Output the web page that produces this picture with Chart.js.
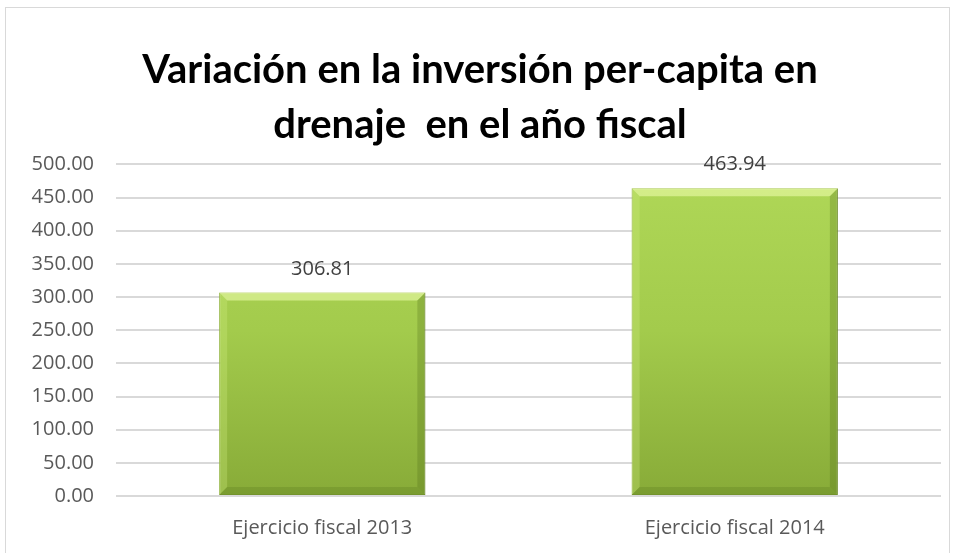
<!DOCTYPE html>
<html>
<head>
<meta charset="utf-8">
<script src="https://cdn.jsdelivr.net/npm/chart.js@4"></script>
<style>
  html, body { margin: 0; padding: 0; background: #fff; }
  #box { position: absolute; left: 5px; top: 7px; width: 945px; height: 560px; border: 1px solid #d9d9d9; box-sizing: border-box; }
  #wrap { position: absolute; left: 0; top: 0; width: 956px; height: 553px; }
</style>
</head>
<body>
<div id="box"></div>
<div id="wrap"><canvas id="c" width="956" height="553"></canvas></div>
<script>
var categories = ['Ejercicio fiscal 2013', 'Ejercicio fiscal 2014'];
var values = [306.81, 463.94];
var titleLines = ['Variación en la inversión per-capita en', 'drenaje  en el año fiscal'];

// green gradient for bars, like the bevel fill in the original
function barFill(ctx) {
  var chart = ctx.chart;
  var area = chart.chartArea;
  if (!area) return '#a6cf4f';
  var g = chart.ctx.createLinearGradient(0, area.top, 0, area.bottom);
  g.addColorStop(0, '#b0d858');
  g.addColorStop(0.5, '#a3cb4c');
  g.addColorStop(1, '#88ab38');
  return g;
}

var valueLabels = {
  id: 'valueLabels',
  afterDatasetsDraw: function(chart) {
    var ctx = chart.ctx;
    var meta = chart.getDatasetMeta(0);
    ctx.save();
    ctx.font = '20px "Open Sans", sans-serif';
    ctx.fillStyle = '#404040';
    ctx.textAlign = 'center';
    ctx.textBaseline = 'alphabetic';
    meta.data.forEach(function(bar, i) {
      ctx.fillText(values[i].toFixed(2), bar.x, bar.y - 18);
    });
    ctx.restore();
  }
};

// soft bevel edges on each bar
var bevel = {
  id: 'bevel',
  afterDatasetsDraw: function(chart) {
    var ctx = chart.ctx;
    var meta = chart.getDatasetMeta(0);
    var b = 8;
    ctx.save();
    meta.data.forEach(function(bar) {
      var l = bar.x - bar.width / 2, r = bar.x + bar.width / 2, t = bar.y, bt = bar.base;
      ctx.fillStyle = 'rgba(235,252,170,0.6)';
      ctx.beginPath();
      ctx.moveTo(l, t); ctx.lineTo(r, t); ctx.lineTo(r - b, t + b); ctx.lineTo(l + b, t + b); ctx.closePath(); ctx.fill();
      ctx.fillStyle = 'rgba(210,240,130,0.3)';
      ctx.beginPath();
      ctx.moveTo(l, t); ctx.lineTo(l + b, t + b); ctx.lineTo(l + b, bt - b); ctx.lineTo(l, bt); ctx.closePath(); ctx.fill();
      ctx.fillStyle = 'rgba(70,100,20,0.25)';
      ctx.beginPath();
      ctx.moveTo(r, t); ctx.lineTo(r - b, t + b); ctx.lineTo(r - b, bt - b); ctx.lineTo(r, bt); ctx.closePath(); ctx.fill();
      ctx.fillStyle = 'rgba(70,100,20,0.2)';
      ctx.beginPath();
      ctx.moveTo(l, bt); ctx.lineTo(l + b, bt - b); ctx.lineTo(r - b, bt - b); ctx.lineTo(r, bt); ctx.closePath(); ctx.fill();
    });
    ctx.restore();
  }
};

new Chart(document.getElementById('c'), {
  type: 'bar',
  data: {
    labels: categories,
    datasets: [{
      data: values,
      backgroundColor: barFill,
      borderColor: '#7f9f33',
      borderWidth: 1,
      borderSkipped: false,
      categoryPercentage: 0.5,
      barPercentage: 1
    }]
  },
  options: {
    responsive: false,
    animation: false,
    layout: { padding: { left: 19, right: 15, top: 42, bottom: -7 } },
    plugins: {
      legend: { display: false },
      tooltip: { enabled: false },
      title: {
        display: true,
        text: titleLines,
        color: '#000',
        font: { family: 'Lato, sans-serif', size: 40, weight: 'bold', lineHeight: 1.38 },
        padding: { top: 0, bottom: 12 }
      }
    },
    scales: {
      y: {
        min: 0,
        max: 500,
        afterFit: function(scale) { scale.width = 97; },
        ticks: {
          stepSize: 50,
          color: '#595959',
          font: { family: '"Open Sans", sans-serif', size: 20 },
          padding: 22,
          callback: function(v) { return v.toFixed(2); }
        },
        grid: { color: '#d9d9d9', lineWidth: 2, drawTicks: false },
        border: { display: false }
      },
      x: {
        ticks: {
          color: '#595959',
          font: { family: '"Open Sans", sans-serif', size: 20 },
          padding: 20
        },
        grid: { display: false, drawTicks: false },
        border: { display: false }
      }
    }
  },
  plugins: [bevel, valueLabels]
});
</script>
</body>
</html>
